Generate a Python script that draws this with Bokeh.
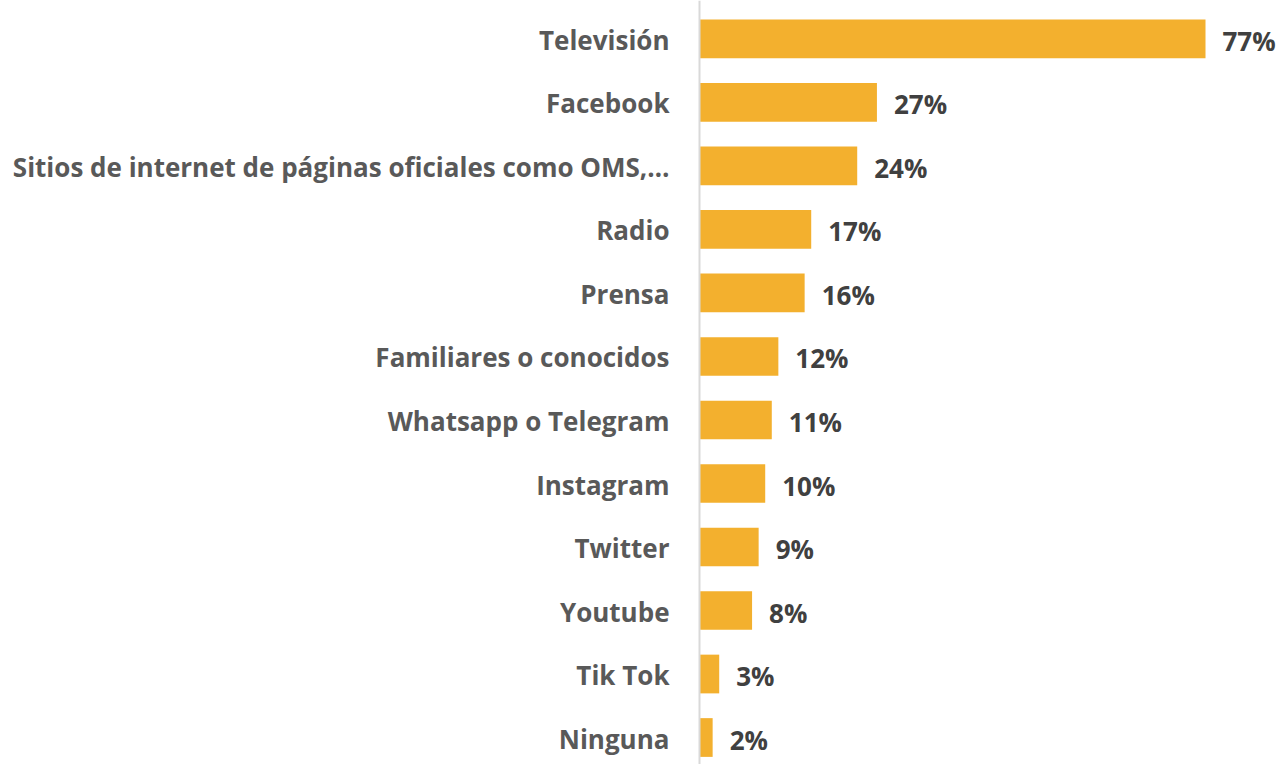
from bokeh.plotting import figure
from bokeh.models import ColumnDataSource, Range1d, Span
from bokeh.core.properties import value
from bokeh.embed import file_html
from bokeh.resources import INLINE

categories = ["Televisión", "Facebook", "Sitios de internet de páginas oficiales como OMS,…",
              "Radio", "Prensa", "Familiares o conocidos", "Whatsapp o Telegram",
              "Instagram", "Twitter", "Youtube", "Tik Tok", "Ninguna"]
values = [77, 27, 24, 17, 16, 12, 11, 10, 9, 8, 3, 2]
value_labels = ["77%", "27%", "24%", "17%", "16%", "12%", "11%", "10%", "9%", "8%", "3%", "2%"]

n = len(categories)
pos = [n - 1 - i for i in range(n)]
src = ColumnDataSource(dict(cat=categories, val=values, lab=value_labels, y=pos, zero=[0] * n))

W, H = 1283, 764
px_per = 506 / 77.0
axis_px = 699
x0 = -axis_px / px_per
x1 = (W - axis_px) / px_per

p = figure(width=W, height=H, output_backend="svg", toolbar_location=None,
           x_range=Range1d(x0, x1), y_range=Range1d(-0.425, 11.606),
           min_border=0, min_border_left=0, min_border_right=0,
           min_border_top=0, min_border_bottom=0)
p.xaxis.visible = False
p.yaxis.visible = False
p.grid.visible = False
p.outline_line_color = None
p.background_fill_color = "white"
p.border_fill_color = "white"

p.hbar(y="y", left=0, right="val", height=0.61, source=src,
       fill_color="#F3B02E", line_color=None)

p.add_layout(Span(location=0, dimension="height", line_color="#D9D9D9", line_width=2))

p.text(x="zero", y="y", text="cat", source=src, x_offset=-30, y_offset=1,
       text_align="right", text_baseline="middle",
       text_font=value("Open Sans"), text_font_style="bold",
       text_font_size="26px", text_color="#595959")

p.text(x="val", y="y", text="lab", source=src, x_offset=17, y_offset=2,
       text_align="left", text_baseline="middle",
       text_font=value("Open Sans"), text_font_style="bold",
       text_font_size="26px", text_color="#404040")

open("out.html", "w").write(file_html(p, INLINE))
